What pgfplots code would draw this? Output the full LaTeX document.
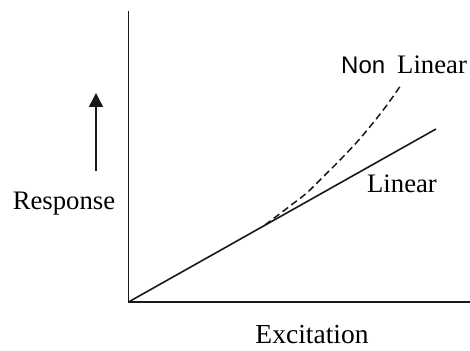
\documentclass[border=0pt]{standalone}
\usepackage{pgfplots}
\pgfplotsset{compat=1.18}
\usetikzlibrary{arrows.meta}
\usepackage{fontspec}
\setmainfont{Liberation Serif}
\newfontfamily\arialish{Liberation Sans}
\begin{document}
\begin{tikzpicture}
\begin{axis}[
  scale only axis,
  width=341.5bp, height=291bp,
  xmin=128.5, xmax=470, ymin=49, ymax=340,
  axis x line*=bottom, axis y line*=left,
  axis line style={line width=1.7bp, black!90},
  xtick=\empty, ytick=\empty,
  clip=false,
]
% linear response
\addplot[line width=1.6bp, black!90] coordinates {(128.5,49) (436,222)};
% non-linear response
\addplot[line width=1.5bp, black!90, dash pattern=on 7bp off 4bp, smooth, tension=0.5]
  coordinates {(265,126) (290,145) (306.7,158) (323,174) (340,191) (357,209) (373,228) (387,246) (401,266)};
\draw[line width=1.6bp, black!90, -{Triangle[width=14bp,length=14bp]}] (axis cs:96,180) -- (axis cs:96,258);
\node[anchor=base, font=\fontsize{26.7bp}{30bp}\selectfont] at (axis cs:64,141.5) {Response};
\node[anchor=base, font=\fontsize{26.7bp}{30bp}\selectfont] at (axis cs:402,158) {Linear};
\node[anchor=base west, inner sep=0pt] at (axis cs:341,277.7) {{\arialish\fontsize{24bp}{28bp}\selectfont Non}\hspace{12bp}{\fontsize{26.7bp}{30bp}\selectfont Linear}};
\node[anchor=base, inner sep=0pt, font=\fontsize{27.5bp}{32bp}\selectfont] at (axis cs:312,8) {Excitation};
\end{axis}
\pgfresetboundingbox
\path (0,0) ++(-128.5bp,-49bp) rectangle ++(470bp,351bp);
\end{tikzpicture}
\end{document}
